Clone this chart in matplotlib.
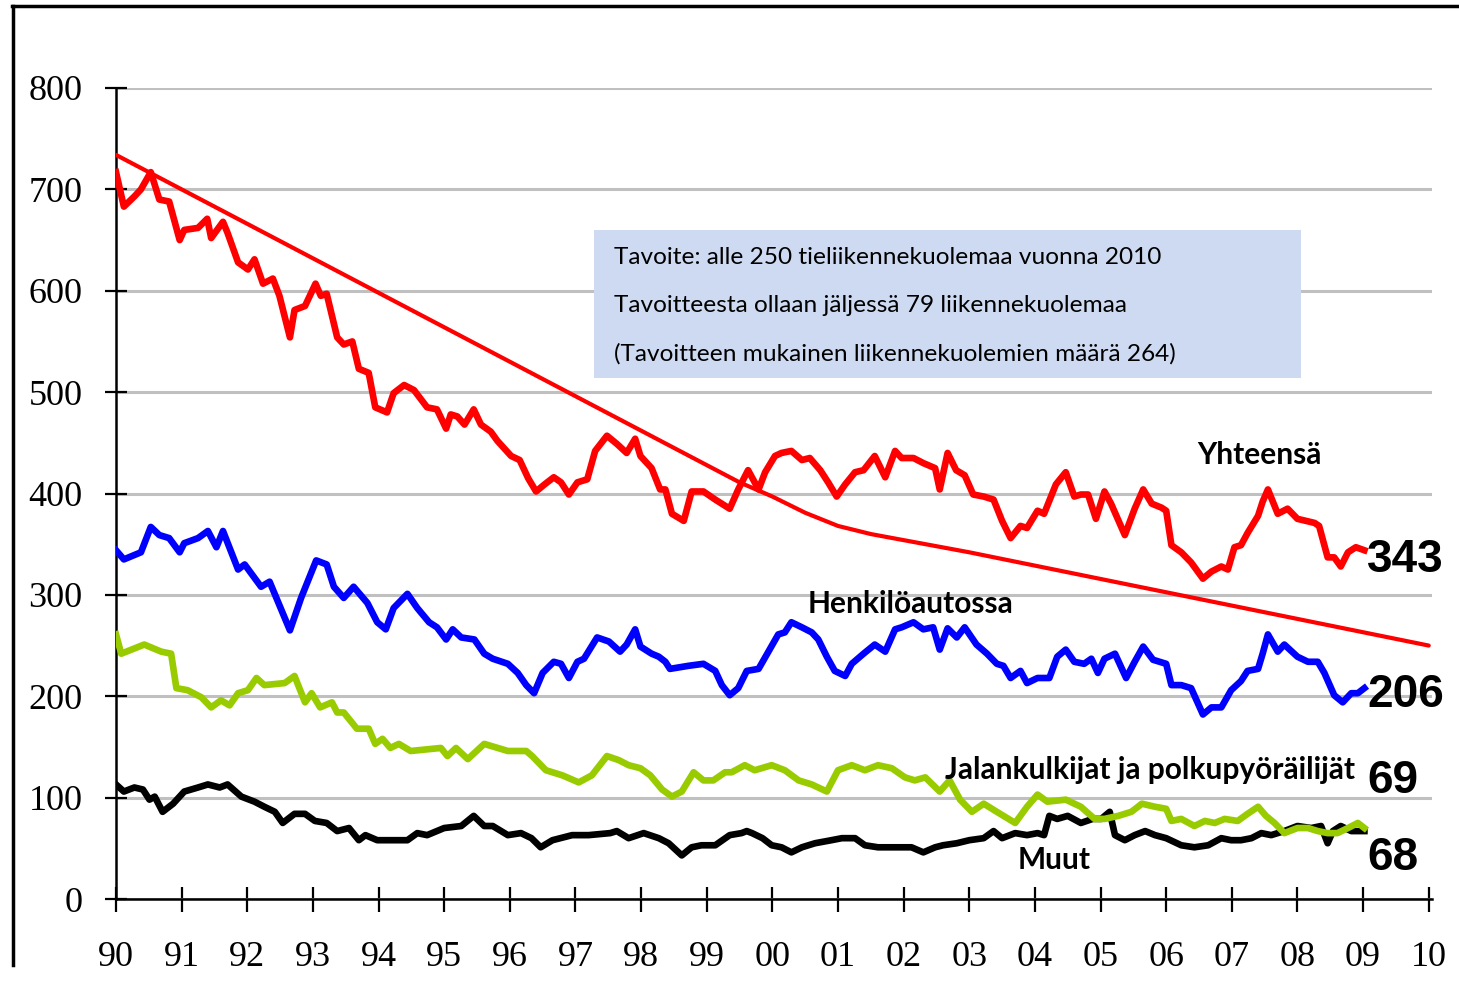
import matplotlib
matplotlib.use("Agg")
import matplotlib.pyplot as plt
import matplotlib.patches as patches
from matplotlib.lines import Line2D


# rolling 12-month road deaths (year, value)
total_x = [1990.0, 1990.12, 1990.28, 1990.38, 1990.53, 1990.66, 1990.81, 1990.97, 1991.04, 1991.25,
           1991.39, 1991.45, 1991.63, 1991.70, 1991.86, 1992.01, 1992.11, 1992.24, 1992.39, 1992.49,
           1992.65, 1992.72, 1992.88, 1993.04, 1993.12, 1993.21, 1993.37, 1993.47, 1993.60, 1993.70,
           1993.85, 1993.95, 1994.13, 1994.23, 1994.39, 1994.54, 1994.74, 1994.89, 1995.03, 1995.10,
           1995.20, 1995.31, 1995.45, 1995.56, 1995.71, 1995.81, 1996.02, 1996.15, 1996.28, 1996.40,
           1996.53, 1996.67, 1996.78, 1996.90, 1997.03, 1997.18, 1997.30, 1997.48, 1997.63, 1997.78,
           1997.91, 1997.99, 1998.16, 1998.29, 1998.37, 1998.47, 1998.65, 1998.77, 1998.95, 1999.13,
           1999.35, 1999.48, 1999.63, 1999.79, 1999.89, 2000.04, 2000.14, 2000.29, 2000.45, 2000.57,
           2000.73, 2000.85, 2000.98, 2001.11, 2001.26, 2001.39, 2001.56, 2001.72, 2001.87, 2001.97,
           2002.15, 2002.30, 2002.48, 2002.55, 2002.67, 2002.80, 2002.93, 2003.06, 2003.22, 2003.37,
           2003.50, 2003.63, 2003.78, 2003.88, 2004.04, 2004.14, 2004.32, 2004.47, 2004.60, 2004.70,
           2004.81, 2004.93, 2005.06, 2005.16, 2005.37, 2005.52, 2005.65, 2005.78, 2005.93, 2006.0,
           2006.08, 2006.23, 2006.38, 2006.56, 2006.69, 2006.84, 2006.94, 2007.04, 2007.14, 2007.24,
           2007.40, 2007.47, 2007.55, 2007.70, 2007.85, 2008.0, 2008.13, 2008.26, 2008.33, 2008.46,
           2008.56, 2008.66, 2008.77, 2008.89, 2009.02]
total_y = [717, 683, 693, 700, 717, 690, 688, 650, 660, 662,
           671, 652, 668, 657, 628, 621, 631, 607, 612, 595,
           554, 581, 585, 607, 595, 597, 554, 547, 550, 523,
           519, 485, 480, 499, 507, 502, 485, 483, 464, 478,
           476, 468, 483, 468, 461, 452, 437, 433, 415, 402,
           409, 416, 411, 399, 411, 414, 442, 457, 449, 440,
           454, 437, 425, 404, 404, 380, 373, 402, 402, 394,
           385, 404, 423, 404, 421, 437, 440, 442, 433, 435,
           423, 411, 397, 409, 421, 423, 437, 416, 442, 435,
           435, 430, 425, 404, 440, 423, 418, 399, 397, 394,
           373, 356, 368, 366, 383, 380, 409, 421, 397, 399,
           399, 375, 402, 390, 359, 385, 404, 390, 386, 383,
           349, 342, 332, 316, 323, 328, 325, 347, 349, 361,
           378, 392, 404, 380, 385, 375, 373, 371, 368, 337,
           337, 328, 342, 347, 344]

car_x = [1990.0, 1990.12, 1990.38, 1990.53, 1990.66, 1990.81, 1990.97, 1991.04, 1991.25, 1991.40,
         1991.53, 1991.63, 1991.86, 1991.96, 1992.21, 1992.34, 1992.65, 1992.82, 1993.05, 1993.21,
         1993.32, 1993.47, 1993.62, 1993.83, 1993.98, 1994.11, 1994.23, 1994.44, 1994.59, 1994.77,
         1994.89, 1995.03, 1995.13, 1995.26, 1995.46, 1995.61, 1995.74, 1995.97, 1996.12, 1996.25,
         1996.37, 1996.50, 1996.67, 1996.78, 1996.90, 1997.03, 1997.13, 1997.33, 1997.51, 1997.68,
         1997.78, 1997.91, 1997.99, 1998.16, 1998.27, 1998.37, 1998.44, 1998.72, 1998.95, 1999.13,
         1999.23, 1999.35, 1999.48, 1999.61, 1999.79, 1999.94, 2000.09, 2000.19, 2000.29, 2000.45,
         2000.60, 2000.70, 2000.83, 2000.95, 2001.11, 2001.21, 2001.39, 2001.56, 2001.72, 2001.87,
         2001.97, 2002.15, 2002.30, 2002.45, 2002.55, 2002.67, 2002.81, 2002.93, 2003.11, 2003.27,
         2003.42, 2003.52, 2003.63, 2003.78, 2003.88, 2004.04, 2004.22, 2004.34, 2004.47, 2004.60,
         2004.75, 2004.86, 2004.96, 2005.06, 2005.22, 2005.39, 2005.52, 2005.65, 2005.80, 2006.0,
         2006.08, 2006.23, 2006.38, 2006.56, 2006.69, 2006.84, 2006.99, 2007.14, 2007.24, 2007.40,
         2007.47, 2007.55, 2007.70, 2007.80, 2008.0, 2008.16, 2008.31, 2008.41, 2008.56, 2008.69,
         2008.82, 2008.92, 2009.02]
car_y = [344, 335, 342, 367, 359, 356, 342, 351, 356, 363,
         347, 363, 325, 330, 308, 313, 265, 297, 334, 330,
         308, 297, 308, 292, 273, 266, 287, 301, 287, 273,
         268, 256, 266, 258, 256, 242, 237, 232, 223, 211,
         203, 223, 234, 232, 218, 234, 237, 258, 254, 244,
         251, 266, 249, 242, 239, 234, 227, 230, 232, 225,
         211, 201, 208, 225, 227, 244, 261, 263, 273, 268,
         263, 256, 239, 225, 220, 232, 242, 251, 244, 266,
         268, 273, 266, 268, 246, 267, 258, 268, 251, 242,
         232, 230, 218, 225, 213, 218, 218, 239, 246, 234,
         232, 237, 223, 237, 242, 218, 234, 249, 236, 232,
         211, 211, 208, 182, 189, 189, 206, 215, 225, 227,
         242, 261, 244, 251, 239, 234, 234, 223, 201, 194,
         203, 203, 208]

walk_x = [1990.0, 1990.08, 1990.43, 1990.69, 1990.84, 1990.92, 1991.09, 1991.30, 1991.45, 1991.60,
          1991.73, 1991.86, 1992.01, 1992.14, 1992.26, 1992.57, 1992.72, 1992.88, 1992.98, 1993.11,
          1993.29, 1993.37, 1993.47, 1993.67, 1993.85, 1993.95, 1994.06, 1994.18, 1994.31, 1994.49,
          1994.95, 1995.05, 1995.18, 1995.36, 1995.61, 1995.97, 1996.25, 1996.34, 1996.55, 1996.80,
          1997.05, 1997.25, 1997.48, 1997.66, 1997.81, 1997.99, 1998.14, 1998.32, 1998.47, 1998.62,
          1998.80, 1998.95, 1999.10, 1999.28, 1999.38, 1999.58, 1999.73, 1999.99, 2000.19, 2000.40,
          2000.60, 2000.83, 2001.0, 2001.21, 2001.41, 2001.61, 2001.82, 2002.02, 2002.17, 2002.33,
          2002.55, 2002.70, 2002.86, 2003.04, 2003.22, 2003.42, 2003.70, 2003.88, 2004.04, 2004.19,
          2004.47, 2004.70, 2004.91, 2005.06, 2005.27, 2005.47, 2005.63, 2005.83, 2006.0, 2006.08,
          2006.23, 2006.43, 2006.59, 2006.74, 2006.89, 2007.09, 2007.24, 2007.40, 2007.52, 2007.65,
          2007.80, 2008.0, 2008.16, 2008.31, 2008.46, 2008.61, 2008.77, 2008.92, 2009.02]
walk_y = [261, 242, 251, 244, 242, 208, 206, 199, 189, 196,
          191, 203, 206, 218, 211, 213, 220, 194, 203, 189,
          194, 184, 184, 168, 168, 153, 158, 149, 153, 146,
          149, 141, 149, 138, 153, 146, 146, 141, 127, 122,
          115, 122, 141, 137, 132, 129, 122, 108, 101, 106,
          125, 117, 117, 125, 125, 132, 127, 132, 127, 117,
          113, 106, 127, 132, 127, 132, 129, 120, 117, 120,
          106, 117, 98, 86, 94, 86, 75, 91, 103, 96,
          98, 91, 79, 79, 82, 86, 94, 91, 89, 77,
          79, 72, 77, 75, 79, 77, 84, 91, 82, 75,
          65, 70, 70, 67, 65, 65, 70, 75, 70]

other_x = [1990.0, 1990.12, 1990.28, 1990.41, 1990.51, 1990.59, 1990.71, 1990.87, 1991.04, 1991.25,
           1991.40, 1991.58, 1991.70, 1991.91, 1992.11, 1992.26, 1992.42, 1992.54, 1992.72, 1992.88,
           1993.03, 1993.21, 1993.37, 1993.55, 1993.70, 1993.80, 1993.98, 1994.44, 1994.59, 1994.74,
           1995.0, 1995.26, 1995.45, 1995.61, 1995.74, 1995.97, 1996.17, 1996.33, 1996.47, 1996.65,
           1996.95, 1997.20, 1997.53, 1997.63, 1997.81, 1998.04, 1998.27, 1998.42, 1998.62, 1998.77,
           1998.92, 1999.13, 1999.35, 1999.53, 1999.61, 1999.69, 1999.85, 1999.99, 2000.14, 2000.29,
           2000.45, 2000.65, 2000.90, 2001.06, 2001.26, 2001.41, 2001.61, 2001.87, 2002.12, 2002.30,
           2002.48, 2002.60, 2002.81, 2003.0, 2003.22, 2003.37, 2003.50, 2003.70, 2003.88, 2004.04,
           2004.14, 2004.22, 2004.34, 2004.50, 2004.70, 2004.88, 2005.01, 2005.14, 2005.22, 2005.37,
           2005.52, 2005.68, 2005.83, 2006.0, 2006.23, 2006.43, 2006.64, 2006.84, 2006.99, 2007.14,
           2007.30, 2007.45, 2007.60, 2007.80, 2008.0, 2008.21, 2008.36, 2008.46, 2008.54, 2008.66,
           2008.82, 2009.02]
other_y = [113, 106, 110, 108, 98, 101, 86, 94, 106, 110,
           113, 110, 113, 101, 96, 91, 86, 75, 84, 84,
           77, 75, 67, 70, 58, 63, 58, 58, 65, 63,
           70, 72, 82, 72, 72, 63, 65, 60, 51, 58,
           63, 63, 65, 67, 60, 65, 60, 55, 43, 51,
           53, 53, 63, 65, 67, 65, 60, 53, 51, 46,
           51, 55, 58, 60, 60, 53, 51, 51, 51, 46,
           51, 53, 55, 58, 60, 67, 60, 65, 63, 65,
           63, 82, 79, 82, 75, 79, 79, 86, 63, 58,
           63, 67, 63, 60, 53, 51, 53, 60, 58, 58,
           60, 65, 63, 67, 72, 70, 72, 55, 67, 72,
           67, 67]

# target path towards 250 deaths in 2010
target_x = [1990, 1999.5, 2000, 2000.5, 2001, 2001.5, 2002, 2003, 2010]
target_y = [734, 411, 397, 381, 368, 360, 354, 342, 250]

year_ticks = list(range(1990, 2011))
year_labels = [f"{y % 100:02d}" for y in year_ticks]
value_ticks = list(range(0, 801, 100))

end_values = ["343", "206", "69", "68"]
end_pos = [334, 201, 116, 40]

box_lines = [
    "Tavoite: alle 250 tieliikennekuolemaa vuonna 2010",
    "Tavoitteesta ollaan jäljessä 79 liikennekuolemaa",
    "(Tavoitteen mukainen liikennekuolemien määrä 264)",
]

fig = plt.figure(figsize=(14.59, 10.06), dpi=100)
ax = fig.add_axes([116 / 1459, 1 - 899 / 1006, (1432 - 116) / 1459, (899 - 88) / 1006])

ax.set_xlim(1990, 2010.05)
ax.set_ylim(0, 800)
ax.set_xticks(year_ticks)
ax.set_xticklabels(year_labels)
ax.set_yticks(value_ticks)
ax.grid(axis="y", color="#c0c0c0", linewidth=2.2, zorder=0)
ax.set_axisbelow(True)
for s in ["top", "right"]:
    ax.spines[s].set_visible(False)
for s in ["left", "bottom"]:
    ax.spines[s].set_linewidth(1.8)
ax.tick_params(axis="both", direction="inout", width=1.6, labelsize=26)
ax.tick_params(axis="y", length=16, pad=16)
ax.tick_params(axis="x", length=18, pad=21)
for lab in ax.get_xticklabels() + ax.get_yticklabels():
    lab.set_family("Liberation Serif")

ax.plot(target_x, target_y, color="#ff0000", linewidth=3, zorder=3, solid_capstyle="round")
ax.plot(other_x, other_y, color="black", linewidth=4.8, zorder=4)
ax.plot(walk_x, walk_y, color="#99cc00", linewidth=4.8, zorder=4)
ax.plot(car_x, car_y, color="#0000ff", linewidth=4.8, zorder=4)
ax.plot(total_x, total_y, color="#ff0000", linewidth=4.8, zorder=4)

box = patches.Rectangle((1997.29, 514), 10.76, 146, facecolor="#cddaf1",
                        edgecolor="none", zorder=2)
ax.add_patch(box)
for i, line in enumerate(box_lines):
    ax.text(1997.58, 633 - i * 47.5, line, fontsize=17.6, family="Lato",
            va="center", ha="left", zorder=5)

lbl = dict(fontsize=21.5, family="Lato", fontweight="bold", zorder=6)
ax.text(2007.42, 438, "Yhteensä", ha="center", va="center", **lbl)
ax.text(2002.1, 291, "Henkilöautossa", ha="center", va="center", **lbl)
ax.text(2005.76, 127, "Jalankulkijat ja polkupyöräilijät", ha="center", va="center", **lbl)
ax.text(2004.3, 38, "Muut", ha="center", va="center", **lbl)

for val, y in zip(end_values, end_pos):
    ax.text(2009.06, y, val, ha="left", va="center", fontsize=33,
            family="Liberation Sans", fontweight="bold", zorder=6)

# outer frame, only top and left edges visible
fig.add_artist(Line2D([12 / 1459, 1], [1 - 6 / 1006, 1 - 6 / 1006], color="black", linewidth=2.5))
fig.add_artist(Line2D([13 / 1459, 13 / 1459], [1 - 965 / 1006, 1 - 6 / 1006], color="black", linewidth=2.5))

fig.savefig("out.png", dpi=100)
